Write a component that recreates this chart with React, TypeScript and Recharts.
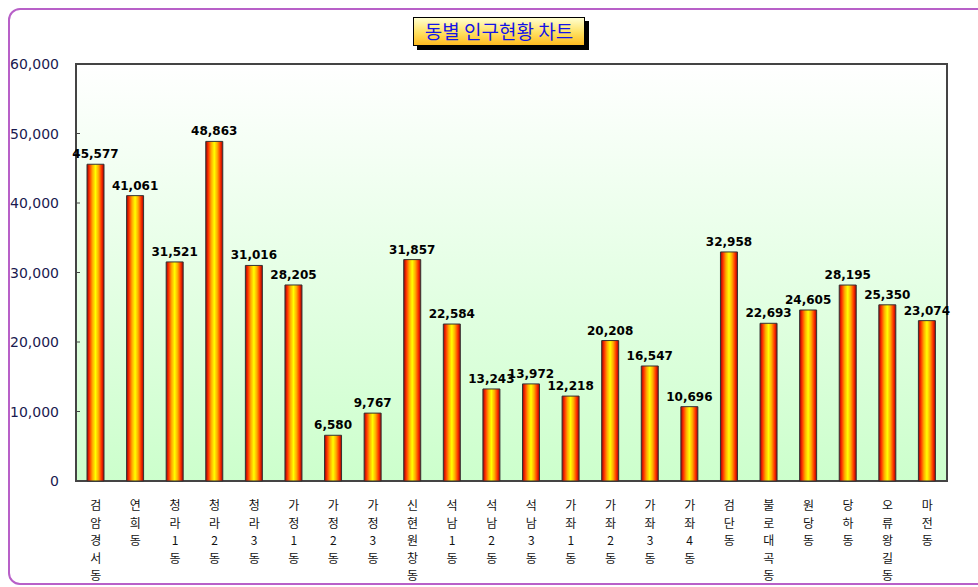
import { BarChart, Bar, XAxis, YAxis, LabelList, ReferenceArea } from "recharts"

const dongs = [
  "검암경서동", "연희동", "청라1동", "청라2동", "청라3동", "가정1동", "가정2동", "가정3동",
  "신현원창동", "석남1동", "석남2동", "석남3동", "가좌1동", "가좌2동", "가좌3동", "가좌4동",
  "검단동", "불로대곡동", "원당동", "당하동", "오류왕길동", "마전동",
]
const population = [
  45577, 41061, 31521, 48863, 31016, 28205, 6580, 9767,
  31857, 22584, 13243, 13972, 12218, 20208, 16547, 10696,
  32958, 22693, 24605, 28195, 25350, 23074,
]
const yTicks = [0, 10000, 20000, 30000, 40000, 50000, 60000]

const data = dongs.map((name, i) => ({ name, value: population[i] }))

const fmt = (v: number) => v.toLocaleString("en-US")

// 세로 글자: 한 글자씩 줄바꿈
function XTick(props: any) {
  const { x, y, payload } = props
  const chars = String(payload.value).split("")
  return (
    <g>
      {chars.map((c, i) => (
        <text
          key={i}
          x={x}
          y={y + 21 + i * 17.5}
          textAnchor="middle"
          fontSize={12}
          fill="#111"
          fontFamily="'Noto Sans CJK KR', sans-serif"
        >
          {c}
        </text>
      ))}
    </g>
  )
}

function YTick(props: any) {
  const { y, payload } = props
  return (
    <g>
      <line x1={76} x2={80} y1={y} y2={y} stroke="#444" />
      <text x={59} y={y + 5} textAnchor="end" fontSize={14} fill="#1a1a50" fontFamily="'DejaVu Sans', sans-serif">
        {fmt(payload.value)}
      </text>
    </g>
  )
}

export default function App() {
  return (
    <div style={{ position: "absolute", left: 0, top: 0, width: 978, height: 587, overflow: "hidden", background: "#fff" }}>
      <div
        style={{
          position: "absolute",
          left: 8,
          top: 8,
          width: 990,
          height: 577,
          border: "2px solid #b860c8",
          borderRadius: 12,
          boxSizing: "border-box",
        }}
      />
      <div
        style={{
          position: "absolute",
          left: 413,
          top: 17,
          width: 172,
          height: 29,
          boxSizing: "border-box",
          border: "1px solid #000",
          background: "linear-gradient(#ffffd0, #ffe060 55%, #ffbb20)",
          boxShadow: "4px 4px 0 #000",
          color: "#1414e6",
          fontFamily: "'Noto Sans CJK KR', sans-serif",
          fontSize: 19,
          lineHeight: "26px",
          textAlign: "center",
          whiteSpace: "nowrap",
        }}
      >
        동별 인구현황 차트
      </div>
      <div style={{ position: "absolute", left: 0, top: 0 }}>
        <BarChart width={978} height={587} data={data} margin={{ top: 64, right: 31, left: 0, bottom: 0 }} barCategoryGap={0}>
          <defs>
            <linearGradient id="bg" x1="0" y1="0" x2="0" y2="1">
              <stop offset="0%" stopColor="#ffffff" />
              <stop offset="100%" stopColor="#ccffcc" />
            </linearGradient>
            <linearGradient id="barGrad" x1="0" y1="0" x2="1" y2="0">
              <stop offset="0%" stopColor="#a00000" />
              <stop offset="15%" stopColor="#ff3300" />
              <stop offset="32%" stopColor="#ffaa00" />
              <stop offset="50%" stopColor="#ffff00" />
              <stop offset="68%" stopColor="#ffaa00" />
              <stop offset="85%" stopColor="#ff3300" />
              <stop offset="100%" stopColor="#a00000" />
            </linearGradient>
          </defs>
          <ReferenceArea y1={0} y2={60000} fill="url(#bg)" fillOpacity={1} stroke="#444" strokeWidth={2} />
          <XAxis dataKey="name" interval={0} height={106} tickLine={false} axisLine={false} tick={<XTick />} />
          <YAxis
            width={76}
            domain={[0, 60000]}
            ticks={yTicks}
            tickLine={false}
            axisLine={false}
            tick={<YTick />}
          />
          <Bar dataKey="value" fill="url(#barGrad)" stroke="#333" strokeWidth={1} barSize={17} isAnimationActive={false}>
            <LabelList
              dataKey="value"
              position="top"
              offset={6}
              formatter={(v: any) => fmt(Number(v))}
              style={{ fontSize: 12, fontWeight: "bold", fill: "#000", fontFamily: "'DejaVu Sans', sans-serif" }}
            />
          </Bar>
        </BarChart>
      </div>
    </div>
  )
}
